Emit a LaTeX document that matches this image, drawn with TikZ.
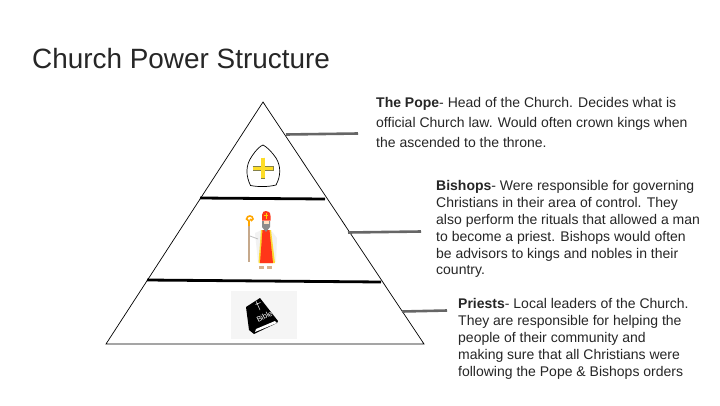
\documentclass[tikz,border=0pt]{standalone}
\usepackage{fontspec}
\setmainfont{Liberation Sans}
\definecolor{txt}{HTML}{262626}
\definecolor{conn}{HTML}{666666}
\tikzset{
  title/.style={anchor=base west,inner sep=0pt,font=\fontsize{27.9}{30}\selectfont,text=txt},
  body/.style={anchor=north west,inner sep=0pt,align=left,text=txt},
  tier/.style={line width=2.8pt,black},
  leader/.style={line width=2.6pt,conn},
  outline/.style={line width=0.7pt,black}
}
\begin{document}
\begin{tikzpicture}[x=1pt,y=-1pt]
\useasboundingbox[fill=white] (0,0) rectangle (720,405);
\node[title] (heading) at (32,68.5) {Church Power Structure};
% pyramid
\coordinate (apex) at (263,102);
\coordinate (bl) at (106,344);
\coordinate (br) at (424,344);
\draw[outline,line join=miter] (apex) -- (bl) -- (br) -- cycle;
\coordinate (t1a) at (200,198); \coordinate (t1b) at (325,199);
\coordinate (t2a) at (147,280); \coordinate (t2b) at (381,282);
\draw[tier] (t1a) -- (t1b);
\draw[tier] (t2a) -- (t2b);
% leaders
\coordinate (l1a) at (286,134.5); \coordinate (l1b) at (358,133.5);
\coordinate (l2a) at (348,232.5); \coordinate (l2b) at (421,231.5);
\coordinate (l3a) at (402,311.5); \coordinate (l3b) at (447,310.5);
\draw[leader] (l1a) -- (l1b);
\draw[leader] (l2a) -- (l2b);
\draw[leader] (l3a) -- (l3b);
% texts
\node[body,font=\fontsize{14}{19.6}\selectfont] (pope) at (376,97.5) {\textbf{The Pope}- Head of the Church. Decides what is\\official Church law. Would often crown kings when\\the ascended to the throne.};
\node[body,font=\fontsize{14}{16.8}\selectfont] (bishops) at (436,180.5) {\textbf{Bishops}- Were responsible for governing\\Christians in their area of control. They\\also perform the rituals that allowed a man\\to become a priest. Bishops would often\\be advisors to kings and nobles in their\\country.};
\node[body,font=\fontsize{14}{16.8}\selectfont] (priests) at (458,298.5) {\textbf{Priests}- Local leaders of the Church.\\They are responsible for helping the\\people of their community and\\making sure that all Christians were\\following the Pope \& Bishops orders};
% mitre
\draw[line width=0.7pt,fill=white] (250.5,185.5) .. controls (246,176) and (245,166) .. (252,156) .. controls (256,150) and (260,146) .. (263,145) .. controls (267,147) and (272,152) .. (276,158) .. controls (281,166) and (281,176) .. (276,185) .. controls (268,187) and (258,187) .. (250.5,185.5) -- cycle;
\draw[line width=4.4pt,color=black!55!yellow] (263,157.5) -- (263,178.5) (252.5,168.5) -- (273.5,168.5);
\draw[line width=3.2pt,color=yellow!75!orange!85!white] (263,158) -- (263,178) (253,168.5) -- (273,168.5);
% bishop
\fill[black!5] (255,233) -- (262,230) -- (271,230) -- (277,238) -- (276,262) -- (258,262) -- cycle;
\draw[line width=1.7pt,color=black!50!orange!45!white] (249,224) -- (249,262);
\draw[line width=1.6pt,color=orange!70!yellow] (249,226) -- (249,221) -- (246.5,219) .. controls (247,215) and (253,215) .. (253,219) .. controls (253,221) and (250,221) .. (250,219);
\draw[line width=0.8pt,color=black!25] (250,236) -- (258,239);
\fill[yellow!70!orange!80!white] (261,230) -- (271,230) -- (275,263) -- (258.5,263) -- cycle;
\fill[red!75!orange!90!white] (262.5,230) -- (269.5,230) -- (273,263) -- (260,263) -- cycle;
\fill[black!45] (262,221) -- (270,221) -- (270,227) -- (266,232) -- (262,227) -- cycle;
\fill[orange!25!white] (263.5,221) rectangle (268.5,224);
\fill[red!75!orange!90!white] (262,220.5) -- (262,215) .. controls (262,212) and (264,211) .. (266,211) .. controls (268,211) and (270.5,212) .. (270.5,216) -- (270.5,220.5) -- cycle;
\draw[line width=0.6pt,yellow!70!orange] (266.3,213) -- (266.3,218.5) (264.3,215) -- (268.3,215);
\fill[black!35!orange!45!white] (259,266) rectangle (264,269);
\fill[black!35!orange!45!white] (267,266) rectangle (272,269);
% bible
\fill[black!4] (231,291) rectangle (297,339);
\fill[black] (246,307) -- (260,298) -- (278,321) -- (277,323) -- (256,333) -- (254,334) -- (249,330) -- cycle;
\fill[white] (255,332) -- (256,329) -- (275,321) -- (277,323) -- cycle;
\draw[white,line width=0.5pt] (256,301) -- (260,310) (255.5,304.5) -- (260.5,302.5);
\node[white,rotate=27,inner sep=0pt,font=\fontsize{7.5}{8}\selectfont] (bibletitle) at (264.5,316.5) {Bible};
\end{tikzpicture}
\end{document}
